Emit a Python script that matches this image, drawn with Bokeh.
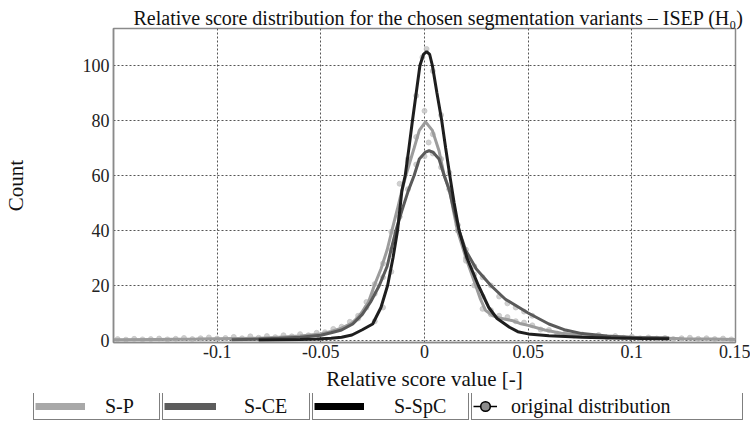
from bokeh.plotting import figure
from bokeh.layouts import column
from bokeh.models import Legend, LegendItem, Range1d, FixedTicker
from bokeh.embed import file_html
from bokeh.resources import INLINE

# ---------------- data ----------------
sp_x = [-0.150, -0.130, -0.110, -0.100, -0.080, -0.070, -0.060, -0.050, -0.045, -0.040,
        -0.035, -0.032, -0.030, -0.027, -0.0242, -0.021, -0.018, -0.0157, -0.013, -0.0109,
        -0.009, -0.005, -0.0025, 0.0005, 0.0038, 0.007, 0.0095, 0.0122, 0.014, 0.0159,
        0.020, 0.0247, 0.027, 0.0295, 0.033, 0.036, 0.042, 0.046, 0.050, 0.058,
        0.066, 0.076, 0.088, 0.100, 0.112, 0.125, 0.138, 0.150]
sp_y = [0.3, 0.4, 0.5, 0.6, 0.8, 1.2, 1.6, 2.4, 3.3, 4.5,
        6.3, 8.5, 10.5, 14.0, 20.0, 26.0, 33.0, 40.0, 48.0, 54.5,
        60.0, 70.0, 76.4, 79.5, 76.4, 69.0, 60.0, 54.5, 47.0, 40.0,
        30.0, 20.0, 15.0, 10.9, 9.0, 8.2, 7.3, 6.2, 5.5, 3.8,
        2.6, 1.8, 1.4, 1.2, 0.9, 0.6, 0.5, 0.4]

sce_x = [-0.093, -0.080, -0.070, -0.060, -0.050, -0.045, -0.040, -0.0346, -0.030, -0.026,
         -0.0218, -0.018, -0.0158, -0.0138, -0.011, -0.0078, -0.005, -0.0025, 0.0005, 0.0022,
         0.004, 0.007, 0.0095, 0.012, 0.0143, 0.0167, 0.0199, 0.025, 0.032, 0.039,
         0.050, 0.060, 0.068, 0.076, 0.088, 0.100, 0.118]
sce_y = [0.3, 0.5, 0.8, 1.2, 1.9, 2.8, 3.8, 6.0, 9.5, 14.0,
         20.0, 27.0, 34.0, 40.0, 47.0, 54.5, 60.0, 66.0, 68.5, 69.0,
         68.5, 66.0, 60.0, 54.5, 47.0, 40.0, 32.7, 26.0, 20.0, 15.0,
         10.0, 6.0, 3.8, 2.5, 1.6, 1.1, 0.9]

spc_x = [-0.080, -0.060, -0.052, -0.045, -0.040, -0.035, -0.030, -0.025, -0.021, -0.0178,
         -0.0152, -0.013, -0.0109, -0.0093, -0.0075, -0.0058, -0.004, -0.0022, -0.0005, 0.001,
         0.0025, 0.0038, 0.006, 0.0083, 0.0102, 0.0122, 0.0143, 0.0167, 0.0205, 0.026,
         0.031, 0.035, 0.041, 0.045, 0.050, 0.060, 0.076, 0.090, 0.105, 0.118]
spc_y = [0.2, 0.4, 0.5, 0.8, 1.2, 2.0, 3.9, 6.0, 12.0, 20.0,
         30.0, 40.0, 54.5, 60.0, 70.0, 80.0, 90.0, 100.0, 104.0, 105.0,
         104.0, 100.0, 90.0, 80.0, 70.0, 60.0, 50.0, 40.0, 30.0, 20.0,
         12.0, 8.0, 4.8, 3.2, 2.4, 1.7, 1.2, 0.9, 0.7, 0.6]

# original (histogram) distributions
orig_sp_x = [-0.148, -0.144, -0.140, -0.136, -0.132, -0.128, -0.124, -0.120, -0.116, -0.112,
             -0.108, -0.104, -0.100, -0.096, -0.092, -0.088, -0.084, -0.080, -0.076, -0.072,
             -0.068, -0.064, -0.060, -0.056, -0.052, -0.048, -0.044, -0.040, -0.036, -0.032,
             -0.028, -0.024, -0.020, -0.016, -0.012, -0.008, -0.004, 0.000, 0.004, 0.008,
             0.012, 0.016, 0.020, 0.024, 0.028, 0.032, 0.036, 0.040, 0.044, 0.048,
             0.052, 0.056, 0.060, 0.064, 0.068, 0.072, 0.076, 0.080, 0.084, 0.088,
             0.092, 0.096, 0.100, 0.104, 0.108, 0.112, 0.116, 0.120, 0.124, 0.128,
             0.132, 0.136, 0.140, 0.144, 0.148]
orig_sp_y = [0.5, 0.3, 0.6, 0.4, 0.5, 0.7, 0.4, 0.6, 0.9, 0.5,
             0.8, 1.1, 0.7, 0.9, 1.3, 0.8, 1.5, 1.0, 1.6, 1.2,
             1.9, 1.5, 2.3, 1.9, 2.8, 3.0, 4.2, 5.0, 6.8, 9.0,
             14.0, 20.5, 28.0, 39.5, 57.0, 65.0, 74.0, 83.5, 75.0, 66.0,
             55.0, 40.0, 29.0, 20.0, 11.5, 9.5, 9.0, 8.5, 7.0, 6.5,
             5.5, 4.0, 3.8, 2.5, 2.9, 1.8, 2.2, 1.6, 2.0, 1.2,
             1.6, 1.0, 1.4, 0.8, 1.1, 0.7, 0.9, 0.5, 0.8, 1.0,
             0.6, 0.8, 0.5, 0.7, 0.4]
orig_sce_x = [-0.032, -0.028, -0.024, -0.020, -0.016, -0.012, -0.008, -0.004, 0.000, 0.002,
              0.004, 0.008, 0.012, 0.016, 0.020, 0.024, 0.028, 0.032, 0.036, 0.040,
              0.044, 0.048, 0.052]
orig_sce_y = [8.0, 12.0, 17.0, 23.0, 33.0, 45.0, 55.0, 64.0, 67.0, 72.0,
              68.0, 63.0, 55.0, 42.0, 33.0, 27.0, 23.0, 20.0, 16.0, 13.5,
              12.0, 10.5, 9.0]
orig_spc_x = [-0.024, -0.020, -0.016, -0.012, -0.008, -0.004, -0.001, 0.001, 0.004, 0.008,
              0.012, 0.016, 0.020, 0.024, 0.028, 0.032]
orig_spc_y = [7.0, 12.0, 25.0, 45.0, 66.0, 89.0, 103.0, 106.0, 98.0, 82.0,
              61.0, 42.0, 30.0, 24.0, 16.0, 11.0]

x_ticks = [-0.1, -0.05, 0, 0.05, 0.1, 0.15]
x_tick_labels = {-0.1: "-0.1", -0.05: "-0.05", 0: "0", 0.05: "0.05", 0.1: "0.1", 0.15: "0.15"}
y_ticks = [0, 20, 40, 60, 80, 100]

series_names = ["S-P", "S-CE", "S-SpC", "original distribution"]
series_colors = ["#9c9c9c", "#5a5a5a", "#1e1e1e"]
legend_colors = ["#a8a8a8", "#5c5c5c", "#000000"]

FONT = "Liberation Serif"

p = figure(width=750, height=393,
           x_range=Range1d(-0.15, 0.15), y_range=Range1d(-0.73, 113.45),
           output_backend="svg", toolbar_location=None,
           min_border_left=110, min_border_right=15, min_border_top=28, min_border_bottom=51)
p.frame_align = False

p.title.text = "Relative score distribution for the chosen segmentation variants \u2013 ISEP (H\u2080)"
p.title.text_font = FONT
p.title.text_font_size = "20px"
p.title.text_font_style = "normal"
p.title.text_color = "#111111"
p.title.align = "left"
p.title.offset = 20
p.title.standoff = 0

p.outline_line_color = "#8a8a8a"
p.outline_line_width = 1.5
p.background_fill_color = "white"
p.border_fill_color = "white"

for ax in (p.xaxis[0], p.yaxis[0]):
    ax.axis_line_color = "#8a8a8a"
    ax.axis_line_width = 1.5
    ax.major_tick_line_color = None
    ax.minor_tick_line_color = None
    ax.major_tick_out = 0
    ax.major_tick_in = 0
    ax.minor_tick_out = 0
    ax.minor_tick_in = 0
    ax.major_label_text_font = FONT
    ax.major_label_text_font_size = "18px"
    ax.major_label_text_color = "#222222"
    ax.axis_label_text_font = FONT
    ax.axis_label_text_font_size = "21px"
    ax.axis_label_text_font_style = "normal"
    ax.axis_label_text_color = "#111111"

p.xaxis.ticker = FixedTicker(ticks=x_ticks)
p.xaxis.major_label_overrides = x_tick_labels
p.xaxis.axis_label = "Relative score value [-]"
p.xaxis.major_label_standoff = 2
p.xaxis.axis_label_standoff = 6

p.yaxis.ticker = FixedTicker(ticks=y_ticks)
p.yaxis.axis_label = "Count"
p.yaxis.major_label_standoff = 4
p.yaxis.axis_label_standoff = 52

for g in (p.xgrid[0], p.ygrid[0]):
    g.grid_line_color = "#555555"
    g.grid_line_dash = "2 2"
    g.grid_line_width = 1
p.xgrid.ticker = FixedTicker(ticks=[-0.1, -0.05, 0, 0.05, 0.1])

# original distributions (dots)
dot_kw = dict(size=5, fill_color="#c4c4c4", line_color="#c4c4c4", fill_alpha=0.8, line_alpha=0.8)
p.scatter(orig_sp_x, orig_sp_y, **dot_kw)
p.scatter(orig_sce_x, orig_sce_y, **dot_kw)
p.scatter(orig_spc_x, orig_spc_y, **dot_kw)

# fitted curves
p.line(sp_x, sp_y, line_color=series_colors[0], line_width=3)
p.line(sce_x, sce_y, line_color=series_colors[1], line_width=3)
p.line(spc_x, spc_y, line_color=series_colors[2], line_width=3)

# ---------------- legend strip (separate figure, data kept out of view) ----------------
lf = figure(width=750, height=43, x_range=Range1d(-0.15, 0.15), y_range=Range1d(500, 501),
            x_axis_type=None, y_axis_type=None, output_backend="svg", toolbar_location=None,
            min_border=0, min_border_left=0, min_border_right=0, min_border_top=0,
            min_border_bottom=0)
lf.frame_align = False
lf.outline_line_color = None
lf.grid.visible = False
lf.background_fill_color = "white"
lf.border_fill_color = "white"

leg_sp = lf.line(sp_x, sp_y, line_color=legend_colors[0], line_width=7)
leg_sce = lf.line(sce_x, sce_y, line_color=legend_colors[1], line_width=7)
leg_spc = lf.line(spc_x, spc_y, line_color=legend_colors[2], line_width=7)
leg_line = lf.line(orig_sp_x, orig_sp_y, line_color="black", line_width=1.5)
leg_dot = lf.scatter(orig_sp_x, orig_sp_y, size=13, fill_color="#8c8c8c",
                     line_color="black", line_width=1.5)

cells = [
    # (renderers, label, x, glyph_width, label_standoff, label_width)
    ([leg_sp], series_names[0], 33, 50, 20, 53),
    ([leg_sce], series_names[1], 162, 52, 28, 64),
    ([leg_spc], series_names[2], 312, 50, 30, 73),
    ([leg_line, leg_dot], series_names[3], 471, 24, 14, 230),
]
for rends, lab, lx, gw, ls, lw in cells:
    lg = Legend(items=[LegendItem(label=lab, renderers=rends)], location=(lx, 16),
                orientation="horizontal",
                glyph_width=gw, glyph_height=24, label_standoff=ls, label_width=lw,
                label_height=22, padding=1, margin=0, spacing=0,
                label_text_font=FONT, label_text_font_size="20px", label_text_color="#111111",
                border_line_color="black", border_line_width=1.5, background_fill_alpha=1.0)
    lf.add_layout(lg, "center")

layout = column(p, lf, spacing=0)
open("out.html", "w").write(file_html(layout, INLINE))
